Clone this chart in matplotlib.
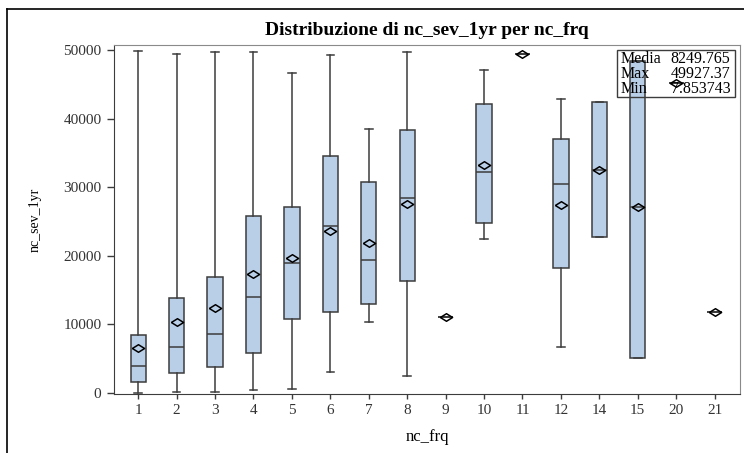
import matplotlib
matplotlib.use('Agg')
import matplotlib.pyplot as plt
from matplotlib.lines import Line2D
from matplotlib.patches import Rectangle

plt.rcParams['font.family'] = ['Liberation Serif', 'DejaVu Serif']

# nc_sev_1yr summary per nc_frq class
categories = ['1', '2', '3', '4', '5', '6', '7', '8', '9', '10', '11', '12', '14', '15', '20', '21']
whis_lo = [7.85, 100, 50, 390, 540, 2980, 10360, 2480, 11000, 22420, 49370, 6620, 22670, 5020, 45140, 11820]
q1 = [1520, 2920, 3700, 5840, 10800, 11730, 12990, 16340, 11000, 24710, 49370, 18240, 22670, 5020, 45140, 11820]
median = [3850, 6710, 8610, 13920, 18880, 24320, 19400, 28360, 11000, 32250, 49370, 30400, 32490, 27050, 45140, 11820]
q3 = [8420, 13860, 16930, 25780, 27140, 34530, 30790, 38330, 11000, 42080, 49370, 37010, 42370, 48350, 45140, 11820]
whis_hi = [49927.37, 49420, 49660, 49750, 46600, 49270, 38470, 49750, 11000, 47080, 49370, 42850, 42370, 48350, 45140, 11820]
means = [6520, 10360, 12310, 17270, 19610, 23590, 21890, 27530, 11000, 33270, 49370, 27390, 32510, 27050, 45140, 11820]

stat_names = ['Media', 'Max', 'Min']
stat_values = ['8249.765', '49927.37', '7.853743']

box_color = '#b9cfe8'
edge_color = '#3c3c3c'
diamond = [(-1, 0), (0, 0.62), (1, 0), (0, -0.62), (-1, 0)]

fig = plt.figure(figsize=(7.44, 4.53), dpi=100)
ax = fig.add_axes([114 / 744, 1 - 394 / 453, 626 / 744, 349 / 453])

stats = []
for i, cat in enumerate(categories):
    stats.append(dict(label=cat, whislo=whis_lo[i], q1=q1[i], med=median[i],
                      q3=q3[i], whishi=whis_hi[i], mean=means[i], fliers=[]))

ax.bxp(stats, positions=range(len(categories)), widths=0.4, capwidths=0.2,
       patch_artist=True, showfliers=False, showmeans=True,
       boxprops=dict(facecolor=box_color, edgecolor=edge_color, linewidth=1.1),
       medianprops=dict(color=edge_color, linewidth=1.1),
       whiskerprops=dict(color=edge_color, linewidth=1.1),
       capprops=dict(color=edge_color, linewidth=1.1),
       meanprops=dict(marker=diamond, markerfacecolor='none', markeredgecolor='black',
                      markersize=8.8, markeredgewidth=1.1, zorder=6))

ax.set_xlim(-0.63, 15.66)
ax.set_ylim(-190, 50730)
ax.set_yticks([0, 10000, 20000, 30000, 40000, 50000])
ax.tick_params(axis='x', length=3.5, width=1, color=edge_color, labelsize=11, pad=4,
               labelcolor='#333333')
ax.tick_params(axis='y', length=5, width=1, color=edge_color, labelsize=11, pad=4,
               labelcolor='#333333')

for side in ['left', 'bottom']:
    ax.spines[side].set_color(edge_color)
for side in ['top', 'right']:
    ax.spines[side].set_color('#8a8a8a')

ax.set_title('Distribuzione di nc_sev_1yr per nc_frq', fontsize=14, fontweight='bold', pad=7)
ax.set_xlabel('nc_frq', fontsize=12)
ax.set_ylabel('nc_sev_1yr', fontsize=10)
ax.xaxis.set_label_coords(0.5, -0.1)
ax.yaxis.set_label_coords(-0.115, 0.5)

# summary statistics inset
ax.add_patch(Rectangle((0.8035, 0.850), 0.1888, 0.1357, transform=ax.transAxes,
                       fill=False, edgecolor=edge_color, linewidth=1, zorder=5))
for row, (name, val) in enumerate(zip(stat_names, stat_values)):
    y = 0.960 - row * 0.0435
    ax.text(0.8088, y, name, transform=ax.transAxes, fontsize=11.5, va='center', ha='left', zorder=5)
    ax.text(0.9846, y, val, transform=ax.transAxes, fontsize=11.5, va='center', ha='right', zorder=5)

# outer frame
fig.add_artist(Line2D([7 / 744, 7 / 744], [0, 1 - 9 / 453], color='black', linewidth=1.2))
fig.add_artist(Line2D([7 / 744, 1], [1 - 9 / 453, 1 - 9 / 453], color='black', linewidth=1.2))

fig.savefig('out.png', dpi=100)
